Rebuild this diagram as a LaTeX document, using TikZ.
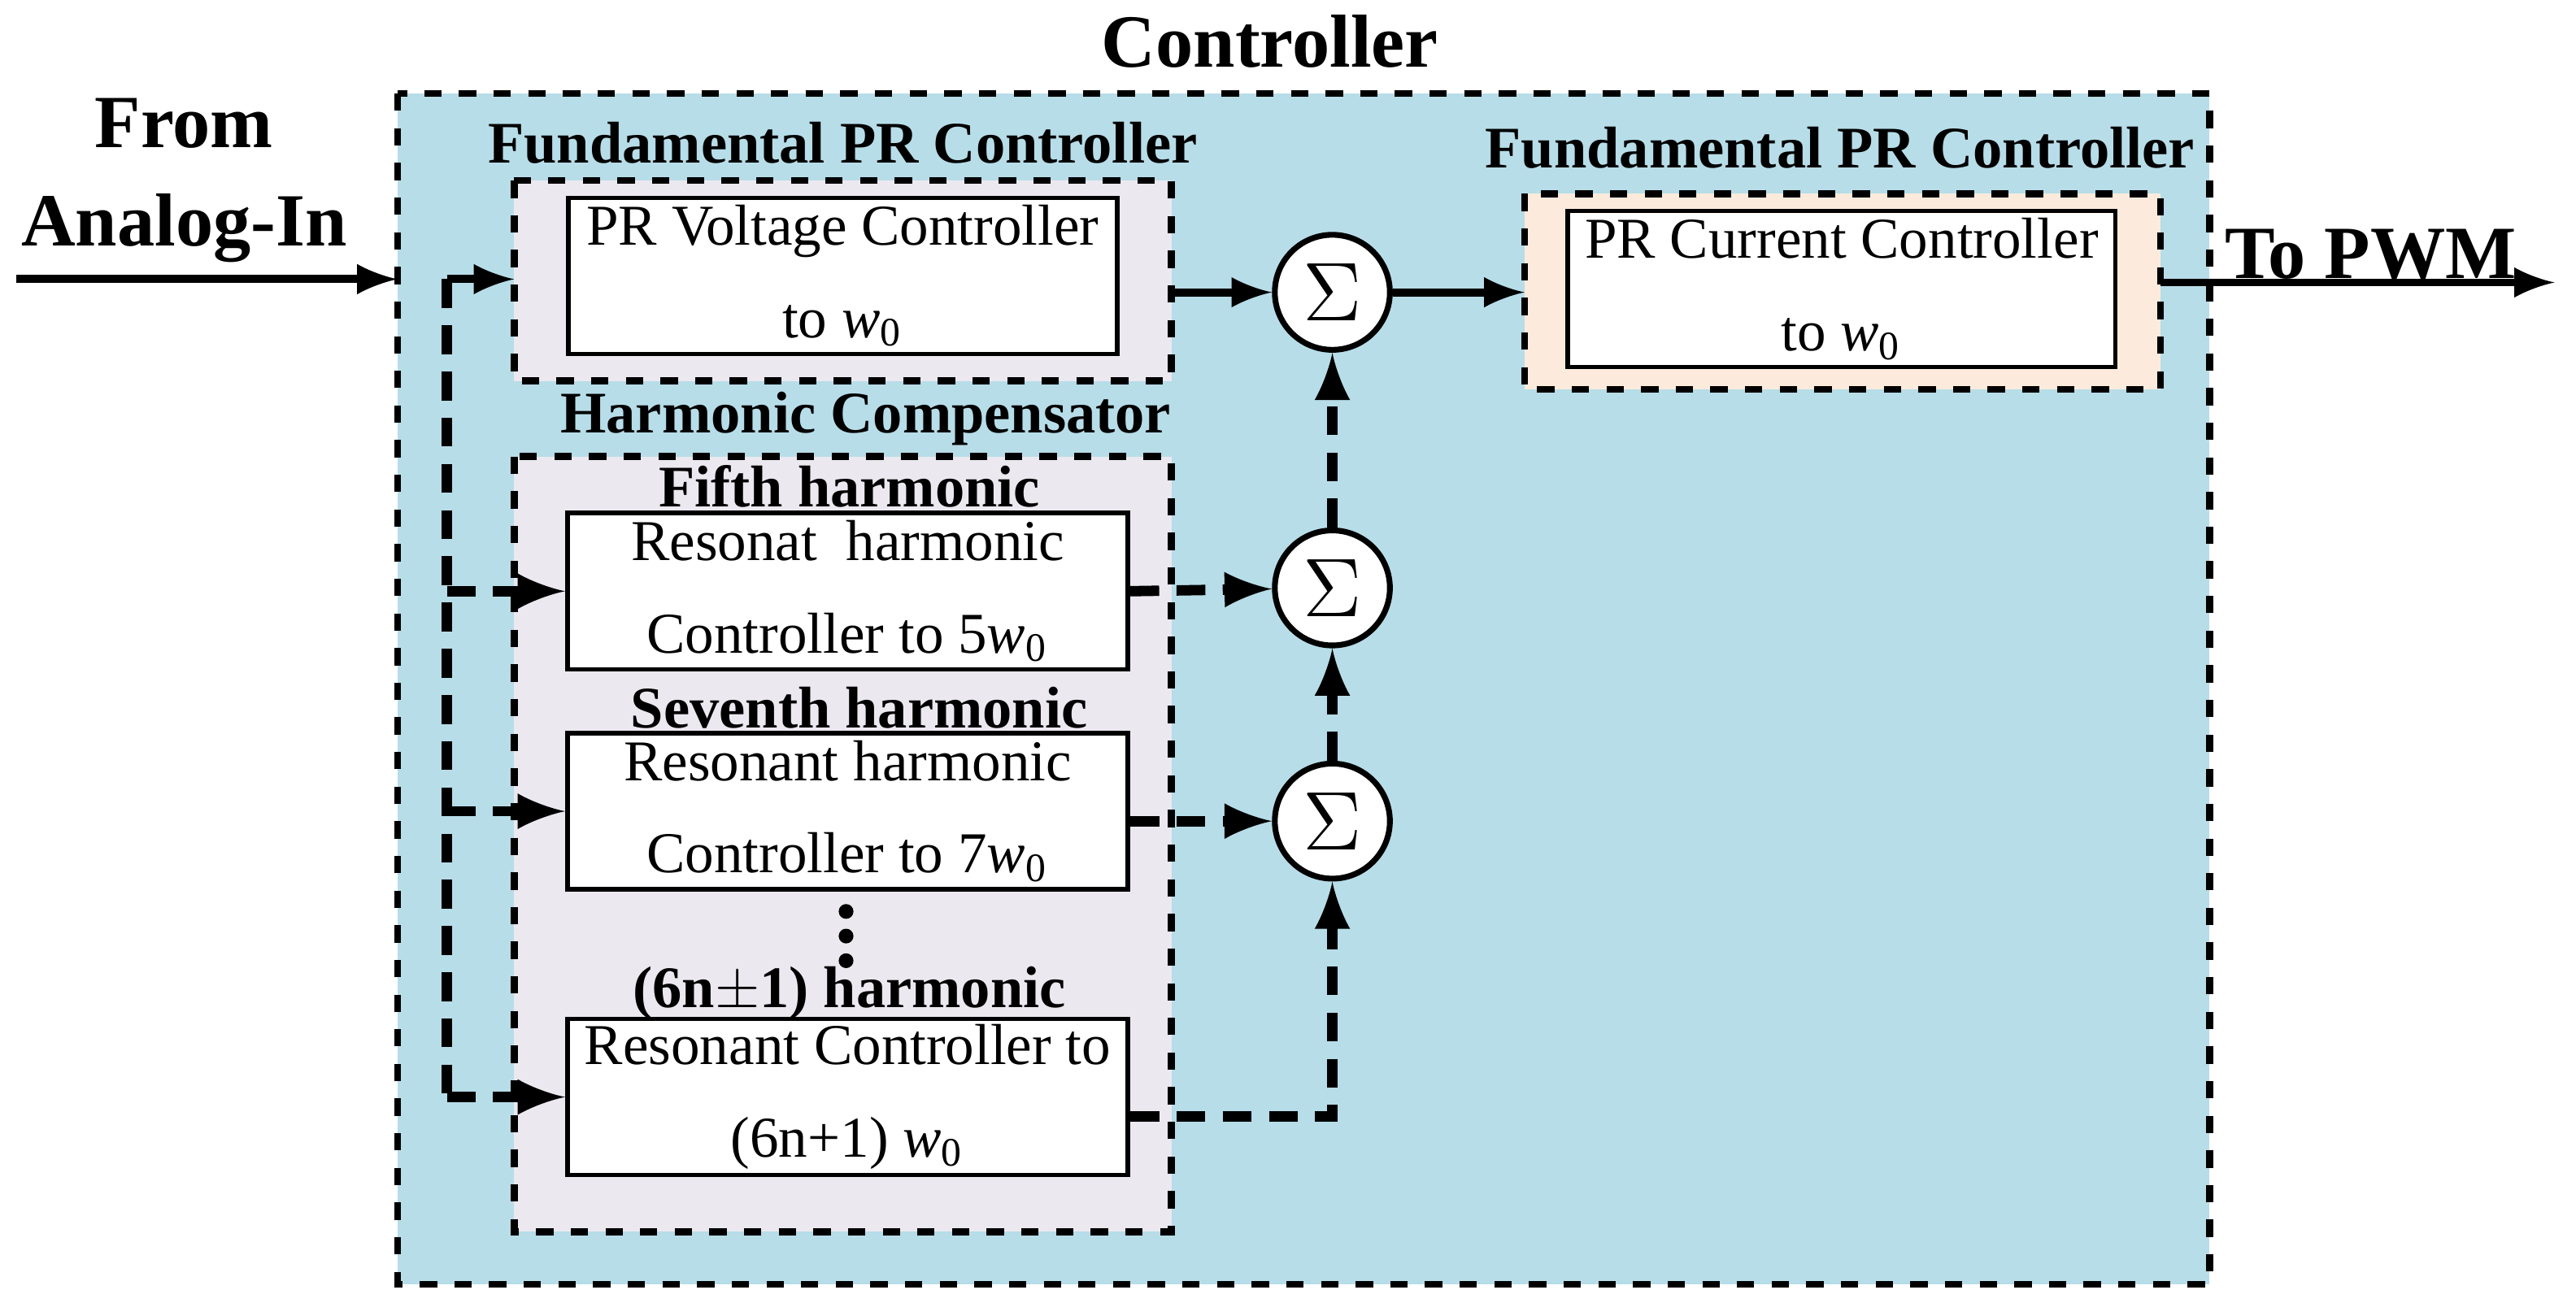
\documentclass[tikz,border=0pt]{standalone}
\usepackage{fontspec}
\setmainfont{Liberation Serif}
\usetikzlibrary{arrows,positioning}
\definecolor{ctrlblue}{HTML}{B7DDE8}
\definecolor{lav}{HTML}{ECE8F0}
\definecolor{peach}{HTML}{FCEBDC}
\newcommand{\wz}{\textit{w}\textsubscript{0}}
\begin{document}
\begin{tikzpicture}[x=0.01cm,y=-0.01cm,>=latex,line width=1.4pt,
        font=\fontsize{10pt}{12pt}\selectfont]
        \tikzstyle{group}=[draw,dashed,line width=1.2pt]
        \tikzstyle{block}=[draw,fill=white,line width=0.8pt,align=center,
            inner sep=0pt,minimum width=3.41cm,minimum height=0.95cm]
        \tikzstyle{sum}=[draw,circle,fill=white,minimum size=0.7cm,inner sep=0pt,
            font=\fontsize{14pt}{14pt}\selectfont,line width=1pt]
        \tikzstyle{lbl}=[font=\bfseries\fontsize{10.2pt}{12pt}\selectfont]
        \tikzstyle{big}=[font=\bfseries\fontsize{13pt}{17pt}\selectfont,align=center]
        \tikzstyle{bus}=[dashed,line width=1.8pt,dash pattern=on 5pt off 3pt]
        \useasboundingbox (0,0) rectangle (1568,801);

        \fill[ctrlblue] (242,57) rectangle (1345,782);
        \draw[group] (242,57) rectangle (1345,782);
        \node[big] (title) at (773,25) {Controller};
        \node[big] (in) at (112,110) {From\\Analog-In};
        \node[big] (out) at (1443,155) {To PWM};

        % fundamental voltage controller
        \draw[group,fill=lav] (313,110) rectangle (713,232);
        \node[lbl] (fl1) at (513,87) {Fundamental PR Controller};
        \node[block,minimum width=3.34cm] (V) at (513,168) {PR Voltage Controller\\[4pt]to \wz};

        % harmonic compensator
        \draw[group,fill=lav] (313,278) rectangle (713,750);
        \node[lbl] (hl) at (527,255) {Harmonic Compensator};
        \node[lbl] (l5) at (517,296) {Fifth harmonic};
        \node[block] (H5) at (516,360) {Resonat~ harmonic\\[4pt]Controller to 5\wz};
        \node[lbl] (l7) at (523,431) {Seventh harmonic};
        \node[block] (H7) at (516,494) {Resonant harmonic\\[4pt]Controller to 7\wz};
        \foreach \y in {555,570,585} \fill (515,\y) circle (4.5);
        \node[lbl] (ln) at (517,605) {(6n$\pm$1) harmonic};
        \node[block] (Hn) at (516,668) {Resonant Controller to\\[4pt](6n+1) \wz};

        % current controller
        \draw[group,fill=peach] (928,118) rectangle (1315,237);
        \node[lbl] (fl2) at (1120,90) {Fundamental PR Controller};
        \node[block,minimum width=3.33cm] (I) at (1121,176) {PR Current Controller\\[4pt]to \wz};

        \node[sum] (S1) at (811,178) {$\Sigma$};
        \node[sum] (S2) at (811,358) {$\Sigma$};
        \node[sum] (S3) at (811,500) {$\Sigma$};

        \coordinate (gin) at (242,170);
        \coordinate (vin) at (313,170);
        \coordinate (b0) at (272,170);
        \coordinate (b1) at (272,668);
        \coordinate (iin) at (928,178);
        \coordinate (iout) at (1315,172);
        \coordinate (pwm) at (1555,172);
        \coordinate (vout) at (713,178);
        \coordinate (corner) at (811,680);

        \draw[->] (10,170) -- (gin);
        \draw[->] (b0) -- (vin);
        \draw[bus] (b0) -- (b1);
        \draw[bus,->] (272,360) -- (H5.west);
        \draw[bus,->] (272,494) -- (H7.west);
        \draw[bus,->] (b1) -- (Hn.west);
        \draw[->] (vout) -- (S1);
        \draw[->] (S1) -- (iin);
        \draw[->] (iout) -- (pwm);
        \draw[bus,->] (H5.east) -- (S2);
        \draw[bus,->] (H7.east |- S3) -- (S3);
        \draw[bus,->] (Hn.east |- corner) -- (corner) -- (S3);
        \draw[bus,->] (S3) -- (S2);
        \draw[bus,->] (S2) -- (S1);
\end{tikzpicture}
\end{document}
